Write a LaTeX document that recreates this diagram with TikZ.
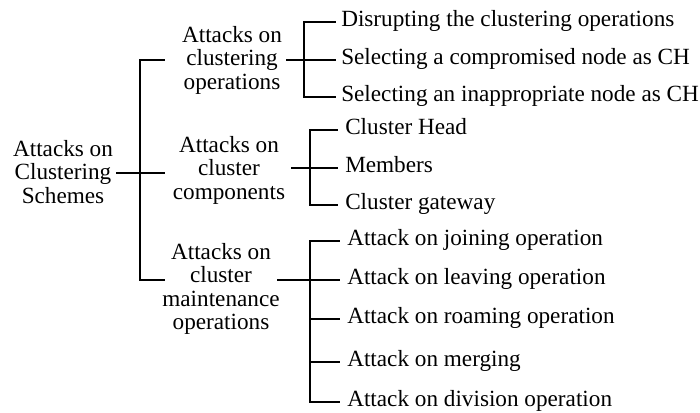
\documentclass[tikz,border=0pt]{standalone}
\usepackage{fontspec}
\setmainfont{Liberation Serif}
\begin{document}
\begin{tikzpicture}[x=0.75pt,y=-0.75pt,
  line/.style={line width=1.35pt,line cap=rect},
  midtext/.style={align=center,inner sep=0pt,font=\fontsize{17.4}{17.6}\selectfont},
  leaf/.style={anchor=base west,inner sep=0pt,font=\fontsize{17.4}{17.6}\selectfont}]
\useasboundingbox (0,0) rectangle (700,412);
% root and level 2 nodes
\node[midtext] (r) at (63,172) {Attacks on\\Clustering\\Schemes};
\node[midtext] (n1) at (232,60) {Attacks on\\clustering\\operations};
\node[midtext] (n2) at (229,170) {Attacks on\\cluster\\components};
\node[midtext] (n3) at (221,289) {Attacks on\\cluster\\maintenance\\operations};
% main bracket coordinates
\coordinate (r0) at (117,173);
\coordinate (m1) at (164,60);
\coordinate (m2) at (164,173);
\coordinate (m3) at (164,280);
\coordinate (mt) at (140,60);
\coordinate (mb) at (140,280);
\draw[line] (r0) -- (m2);
\draw[line] (m1) -- (mt) -- (mb) -- (m3);
% group 1
\coordinate (a0) at (287,60);
\coordinate (at) at (304,22);
\coordinate (am) at (304,60);
\coordinate (ab) at (304,97);
\node[leaf] (l11) at (341,26) {Disrupting the clustering operations};
\node[leaf] (l12) at (341,64) {Selecting a compromised node as CH};
\node[leaf] (l13) at (341,101) {Selecting an inappropriate node as CH};
\coordinate (e11) at (335,22);
\coordinate (e12) at (335,60);
\coordinate (e13) at (335,97);
\draw[line] (a0) -- (am);
\draw[line] (e11) -- (at) -- (ab) -- (e13);
\draw[line] (am) -- (e12);
% group 2
\coordinate (b0) at (292,168);
\coordinate (bt) at (310,130);
\coordinate (bm) at (310,168);
\coordinate (bb) at (310,205);
\node[leaf] (l21) at (345,134) {Cluster Head};
\node[leaf] (l22) at (345,172) {Members};
\node[leaf] (l23) at (345,209) {Cluster gateway};
\coordinate (e21) at (337,130);
\coordinate (e22) at (337,168);
\coordinate (e23) at (337,205);
\draw[line] (b0) -- (bm);
\draw[line] (e21) -- (bt) -- (bb) -- (e23);
\draw[line] (bm) -- (e22);
% group 3
\coordinate (c0) at (278,280);
\coordinate (ct) at (310,241);
\coordinate (cm) at (310,280);
\coordinate (cb) at (310,402);
\node[leaf] (l31) at (347,245) {Attack on joining operation};
\node[leaf] (l32) at (347,284) {Attack on leaving operation};
\node[leaf] (l33) at (347,323) {Attack on roaming operation};
\node[leaf] (l34) at (347,366) {Attack on merging};
\node[leaf] (l35) at (347,406) {Attack on division operation};
\coordinate (e31) at (339,241);
\coordinate (e32) at (339,280);
\coordinate (e33) at (339,319);
\coordinate (e34) at (339,362);
\coordinate (e35) at (339,402);
\coordinate (c3) at (310,319);
\coordinate (c4) at (310,362);
\draw[line] (c0) -- (cm);
\draw[line] (e31) -- (ct) -- (cb) -- (e35);
\draw[line] (cm) -- (e32);
\draw[line] (c3) -- (e33);
\draw[line] (c4) -- (e34);
\end{tikzpicture}
\end{document}
